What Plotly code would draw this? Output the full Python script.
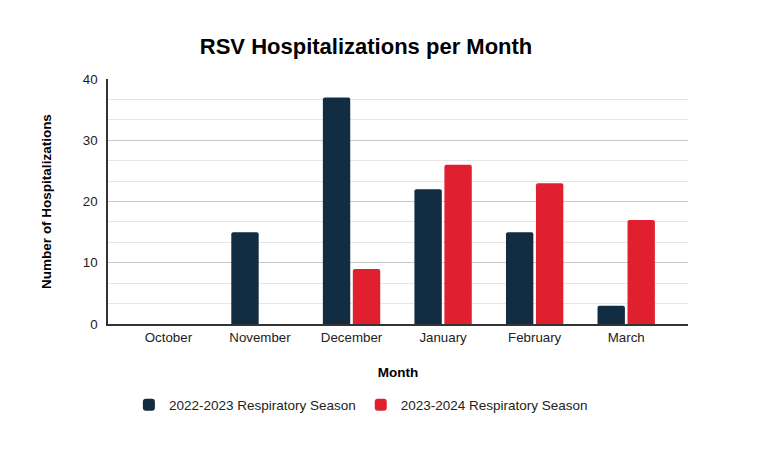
import plotly.graph_objects as go

months = ["October", "November", "December", "January", "February", "March"]
season_2022_2023 = [0, 15, 37, 22, 15, 3]
season_2023_2024 = [0, 0, 9, 26, 23, 17]

fig = go.Figure()
fig.add_trace(go.Bar(x=months, y=season_2022_2023, name="2022-2023 Respiratory Season",
                     marker=dict(color="#122c42", line=dict(width=0))))
fig.add_trace(go.Bar(x=months, y=season_2023_2024, name="2023-2024 Respiratory Season",
                     marker=dict(color="#e0202f", line=dict(width=0))))

# page body has an 8px margin, so everything is laid out 8px up/left
fig.update_layout(
    width=770, height=449,
    margin=dict(l=100, r=90, t=71, b=133, autoexpand=False),
    paper_bgcolor="white", plot_bgcolor="white",
    font=dict(family="Liberation Sans, Arial", size=13, color="#222222"),
    title=dict(text="<b>RSV Hospitalizations per Month</b>", x=0.465, xanchor="center",
               y=0.915, yanchor="middle", font=dict(size=22, color="#000000")),
    barmode="group", bargap=0.345, bargroupgap=0.087, barcornerradius=2,
    showlegend=True,
    legend=dict(orientation="h", x=0.436, xanchor="center", y=-0.33, yanchor="middle",
                font=dict(size=13.5, color="#222222"), traceorder="normal"),
)
fig.update_xaxes(
    range=[-0.66, 5.675],
    showline=True, linecolor="#333333", linewidth=1.5,
    ticks="", tickfont=dict(size=13.3), ticklabelstandoff=0,
    title=dict(text="<b>Month</b>", font=dict(size=13.5, color="#000000"), standoff=24),
)
fig.update_yaxes(
    range=[0, 40], dtick=10, showline=True, linecolor="#333333", linewidth=1.5,
    gridcolor="#c8c8c8", gridwidth=1, zeroline=False, ticks="",
    tickfont=dict(size=13.3), ticklabelstandoff=6,
    minor=dict(dtick=10 / 3, showgrid=True, gridcolor="#e6e6e6", gridwidth=1),
    title=dict(text="<b>Number of Hospitalizations</b>", font=dict(size=13.5, color="#000000"), standoff=28),
)

fig.write_html("out.html")
